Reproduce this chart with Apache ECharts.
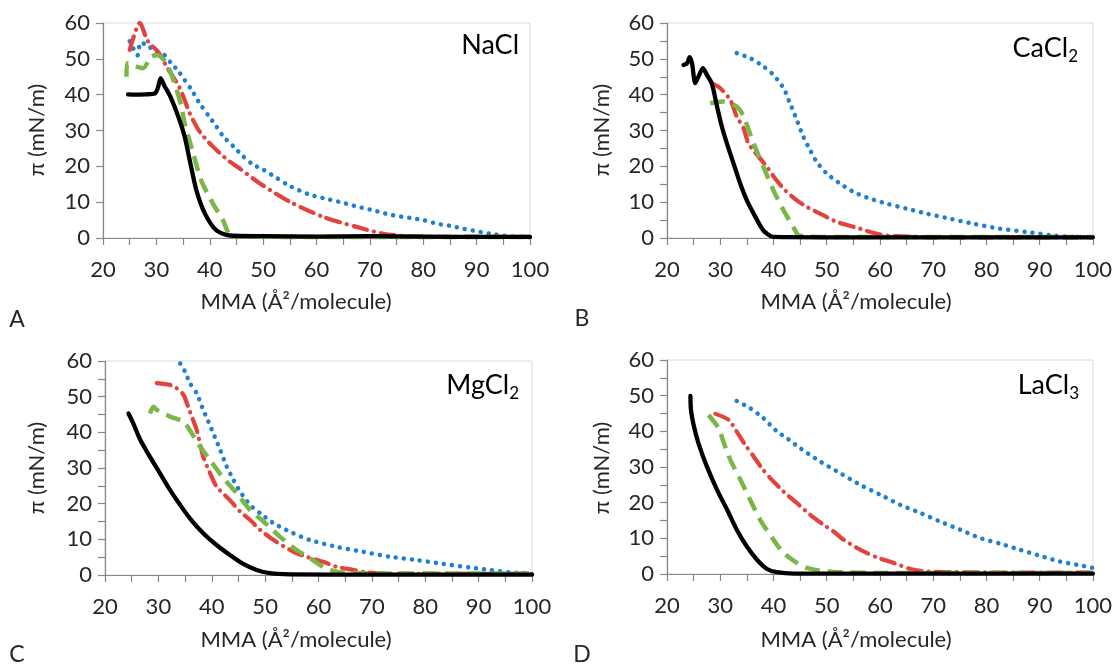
<!DOCTYPE html>
<html>
<head>
<meta charset="utf-8">
<script src="https://cdn.jsdelivr.net/npm/echarts@6/dist/echarts.min.js"></script>
<style>html,body{margin:0;padding:0;background:#fff}#c{width:1115px;height:664px}</style>
</head>
<body>
<div id="c"></div>
<script>
// ---------- data (x = MMA, y = surface pressure) ----------
const panelTitles = [['NaCl', ''], ['CaCl', '2'], ['MgCl', '2'], ['LaCl', '3']];
const panelLetters = ['A', 'B', 'C', 'D'];
const xTitle = 'MMA (Å²/molecule)';
const yTitle = 'π (mN/m)';

// Panel A: NaCl
const naclBlack = [[24.7,40.1],[26,40],[28,40.1],[29.7,40.3],[30.3,42],[30.8,44.6],[31.5,42.5],[32.6,39.5],[34.1,33.9],[35.3,28.3],[36.25,21.7],[37.5,13.3],[39.1,6.8],[41.25,2.1],[43.75,0.7],[50,0.5],[60,0.4],[70,0.5],[80,0.4],[90,0.3],[100,0.3]];
const naclGreen = [[24.4,45],[24.5,48.8],[27.5,47.4],[29,50.6],[30.2,51],[31.9,48.8],[33.4,43.2],[34.7,36.7],[35.3,32],[36.9,23.6],[38.4,16.1],[40.6,9.6],[42.5,4.9],[43.75,0.7],[45,0.4],[60,0.3],[100,0.3]];
const naclRed = [[25,52.5],[26.9,60],[28.4,54.9],[30.3,52],[31.9,47.9],[34.4,41.8],[36.25,34.8],[38.1,29.7],[40.6,25.5],[43.4,21.7],[45.6,19.4],[49.4,15.2],[55,10.1],[61.25,5.9],[67.5,3.1],[72.5,1.2],[76.9,0.5],[85,0.3],[100,0.3]];
const naclBlue = [[25,54.9],[26,52],[26.5,51],[27,54.5],[28,54],[30,52],[31.5,51.1],[32.8,48.7],[34,46.8],[35.3,44.1],[36.6,41.3],[38.1,37.6],[39.7,34.3],[41.25,31.1],[42.5,28.4],[44.4,25.6],[46.25,22.8],[48.1,20.5],[50,19.1],[52.5,16.8],[55,14.5],[58.75,12.1],[62.5,10.7],[65,9.8],[67.5,8.8],[71.25,7.5],[73.75,6.5],[77.5,5.6],[80,5],[82.5,4.0],[85,3.4],[87.5,2.6],[90,1.9],[92.5,1.2],[96.25,0.5],[100,0.2]];

// Panel B: CaCl2
const caclBlack = [[23.1,48.3],[23.8,48.8],[24.25,50.5],[24.7,48.8],[25.3,43.2],[25.9,45],[26.75,47.4],[27.5,45.5],[28.4,43.2],[29.4,36.7],[30.3,31.1],[31.25,26.4],[32.5,20.8],[33.75,15.2],[35,10.5],[36.6,5.9],[38.1,2.1],[40,0.3],[50,0.2],[100,0.2]];
const caclGreen = [[28.1,37.6],[30.6,38.1],[33.1,36.7],[34.4,33.9],[36.25,26.4],[38.1,19.9],[40,13.3],[41.9,7.7],[44.1,2.1],[44.7,0.7],[50,0.3],[100,0.3]];
const caclRed = [[28.4,43.2],[30,41.8],[31.9,38.5],[33.1,33.9],[34.4,30.6],[35.3,26.4],[37.2,22.7],[38.75,19.9],[40.3,16.6],[42.2,13.3],[44.4,10.5],[46.25,8.7],[48.75,6.8],[51.9,4.5],[56.25,2.6],[59.4,1.2],[61.9,0.6],[70,0.2],[100,0.2]];
const caclBlue = [[33.1,51.6],[35.6,50.2],[38.1,47.9],[40,45.5],[41.9,41.8],[43.1,37.6],[44.4,32.9],[45.6,28.3],[46.9,24.5],[48.1,21.3],[50,18],[52.5,15.2],[55,12.9],[58.1,11],[61.25,9.6],[65,8.2],[68.75,6.8],[73.1,5.4],[77.5,4],[82.5,2.6],[87.5,1.7],[92.5,0.7],[96.25,0.3],[100,0.2]];

// Panel C: MgCl2
const mgclBlack = [[24.4,45.3],[25.3,42.5],[26.6,37.9],[28.4,33.2],[30.3,28.5],[32.2,23.8],[34.1,19.6],[35.9,15.9],[38.4,11.7],[40.9,8.4],[43.4,5.6],[45.9,3.1],[48.4,1.4],[50.9,0.5],[54.7,0.2],[70,0.1],[100,0.1]];
const mgclGreen = [[28.4,45.3],[29.1,47.2],[29.7,46.3],[32.2,44.4],[34.7,43],[35.9,40.6],[37.8,36],[39.7,32.2],[42.2,27.1],[44.7,22.9],[47.2,18.2],[49.7,15],[52.8,10.7],[55.9,7],[58.4,4.7],[60.9,2.3],[63.4,0.9],[67.2,0.5],[80,0.4],[100,0.4]];
const mgclRed = [[29.7,53.8],[32.2,53.3],[33.4,52.4],[34.7,50.5],[35.9,45.8],[37.2,40.6],[38.4,33.2],[39.7,28.5],[40.9,24.8],[43.4,21],[45.3,17.8],[47.2,15.4],[49.1,12.6],[51.6,9.8],[55.3,6.5],[57.8,5.1],[60.9,3.7],[63.4,2.3],[66.6,1.4],[69.1,0.7],[75,0.3],[100,0.3]];
const mgclBlue = [[34.1,59.3],[35,57],[35.9,53.8],[37.2,50.9],[38.4,46.3],[39.1,43.9],[40.3,39.7],[41.6,35],[42.8,30.4],[44.1,26.6],[45.3,23.4],[47.2,19.6],[49.1,17.3],[51.6,14.5],[54.7,12.1],[58.4,9.8],[63.4,7.9],[68.4,6.5],[73.4,5.1],[78.4,4.2],[83.4,3.1],[88.4,2.1],[92.2,1.4],[95.9,0.7],[100,0.5]];

// Panel D: LaCl3
const laclBlack = [[24.4,49.9],[24.5,46],[25,41.8],[25.9,36.7],[27.5,30.1],[29.4,23.6],[31.3,18],[33.1,12.4],[35,7.7],[36.9,4],[38.8,1.4],[40.6,0.5],[43.8,0.1],[100,0.1]];
const laclGreen = [[27.8,44.6],[29.7,40.9],[30.6,37.1],[31.9,32],[33.8,26.4],[35.6,20.8],[37.5,15.2],[40,9.6],[41.9,5.9],[44.4,3.1],[46.3,1.7],[48.8,0.9],[52.5,0.5],[60,0.3],[100,0.3]];
const laclRed = [[29.1,44.9],[31.6,43.2],[33.1,39.9],[34.7,36.2],[36.3,32.9],[37.8,29.7],[39.4,26.9],[41.9,23.1],[44.4,19.9],[46.9,16.6],[49.4,13.8],[51.3,11.9],[53.2,9.6],[55.7,7.3],[57.5,5.9],[59.7,4.5],[62.6,3.1],[65.7,1.4],[68.8,0.7],[74.4,0.5],[85,0.4],[100,0.4]];
const laclBlue = [[33.1,48.5],[35.6,46.5],[38.1,43.7],[40.7,39.9],[42.5,38.1],[45,35.3],[48.8,31.5],[52.5,28.3],[56.3,25],[60.1,22.2],[63.8,19.4],[67.6,17.1],[71.3,14.7],[75.1,12.4],[78.8,10.1],[82.6,8.5],[86.3,6.8],[90.1,5.1],[93.8,3.5],[97,2.6],[100,1.7]];

const panelData = [
  [naclBlue, naclRed, naclGreen, naclBlack],
  [caclBlue, caclRed, caclGreen, caclBlack],
  [mgclBlue, mgclRed, mgclGreen, mgclBlack],
  [laclBlue, laclRed, laclGreen, laclBlack]
];

// ---------- layout / style ----------
const FONT = 'Lato';
const grids = [
  {left: 103, top: 23, width: 427, height: 215},
  {left: 667, top: 23, width: 426, height: 215},
  {left: 105, top: 361, width: 427, height: 214},
  {left: 667, top: 360, width: 426, height: 214}
];
const yIntervals = [10, 5, 5, 5];
const seriesStyles = [
  {color: '#1f7fd1', type: [0.1, 8], cap: 'round', width: 4.5},
  {color: '#e2433d', type: [14, 7, 0.1, 7], cap: 'round', width: 4.2},
  {color: '#7ab648', type: [15, 8], cap: 'butt', width: 4.5},
  {color: '#000000', type: 'solid', cap: 'round', width: 4.3}
];
const axisColor = '#878787';
const textColor = '#262626';

const xAxes = [], yAxes = [], series = [];
grids.forEach((g, i) => {
  g.show = true; g.borderColor = '#d9d9d9'; g.borderWidth = 1; g.containLabel = false;
  xAxes.push({
    type: 'value', gridIndex: i, min: 20, max: 100, interval: 5,
    axisLine: {show: true, onZero: false, lineStyle: {color: axisColor, width: 1.2}},
    axisTick: {show: true, inside: false, length: 7, lineStyle: {color: axisColor, width: 1.2}},
    splitLine: {show: false},
    axisLabel: {margin: 21, fontFamily: FONT, fontSize: 22, color: textColor,
      formatter: v => (v % 10 === 0 ? String(v) : '')}
  });
  yAxes.push({
    type: 'value', gridIndex: i, min: 0, max: 60, interval: yIntervals[i],
    axisLine: {show: true, onZero: false, lineStyle: {color: axisColor, width: 1.2}},
    axisTick: {show: true, inside: false, length: 7, lineStyle: {color: axisColor, width: 1.2}},
    splitLine: {show: false},
    axisLabel: {margin: 13, fontFamily: FONT, fontSize: 22, color: textColor,
      formatter: v => (v % 10 === 0 ? String(v) : '')}
  });
  panelData[i].forEach((d, k) => {
    const st = seriesStyles[k];
    series.push({
      type: 'line', xAxisIndex: i, yAxisIndex: i, data: d, showSymbol: false, symbol: 'none',
      smooth: 0.25, clip: true, animation: false, z: 2 + k,
      lineStyle: {color: st.color, width: st.width, type: st.type, cap: st.cap, join: 'round'}
    });
  });
});

const titlePos = [[519, 45], [1078, 48], [519, 385], [1079, 385]];
const xTitlePos = [[296, 302], [856, 302], [296, 640], [856, 640]];
const yTitlePos = [[37, 130], [602, 130], [37, 468], [602, 468]];
const letterPos = [[17, 320], [582, 319], [17, 655], [582, 655]];

const graphic = [];
for (let i = 0; i < 4; i++) {
  const t = panelTitles[i];
  graphic.push({
    type: 'text', x: titlePos[i][0], y: titlePos[i][1], z: 100,
    style: {
      text: t[1] ? '{a|' + t[0] + '}{s|' + t[1] + '}' : '{a|' + t[0] + '}',
      align: 'right', verticalAlign: 'middle', fill: '#000',
      rich: {
        a: {fontFamily: FONT, fontSize: 27, lineHeight: 34, fill: '#000', verticalAlign: 'middle'},
        s: {fontFamily: FONT, fontSize: 17, lineHeight: 13, fill: '#000', verticalAlign: 'bottom'}
      }
    }
  });
  graphic.push({
    type: 'text', x: xTitlePos[i][0], y: xTitlePos[i][1],
    style: {text: xTitle, align: 'center', verticalAlign: 'middle', fontFamily: FONT, fontSize: 22, fill: textColor}
  });
  graphic.push({
    type: 'text', x: yTitlePos[i][0], y: yTitlePos[i][1], rotation: Math.PI / 2,
    style: {text: yTitle, align: 'center', verticalAlign: 'middle', fontFamily: FONT, fontSize: 22, fill: textColor}
  });
  graphic.push({
    type: 'text', x: letterPos[i][0], y: letterPos[i][1],
    style: {text: panelLetters[i], align: 'center', verticalAlign: 'middle', fontFamily: FONT, fontSize: 23, fill: textColor}
  });
}

const chart = echarts.init(document.getElementById('c'), null, {renderer: 'canvas'});
chart.setOption({
  backgroundColor: '#ffffff',
  animation: false,
  grid: grids,
  xAxis: xAxes,
  yAxis: yAxes,
  series: series,
  graphic: graphic
});
</script>
</body>
</html>
